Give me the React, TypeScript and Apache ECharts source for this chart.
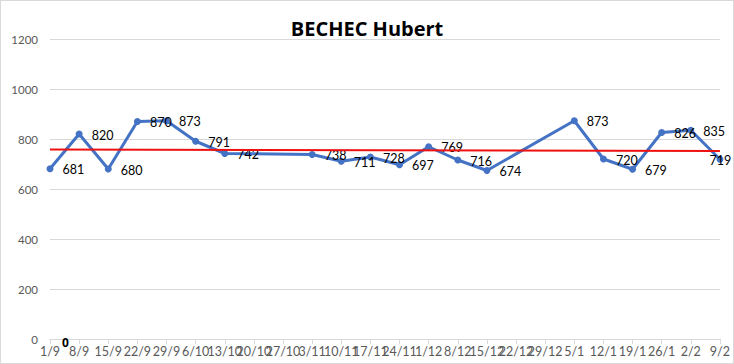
import React, { useEffect, useRef } from "react";
import * as echarts from "echarts";

const categories = [
  "1/9", "8/9", "15/9", "22/9", "29/9", "6/10", "13/10", "20/10", "27/10", "3/11",
  "10/11", "17/11", "24/11", "1/12", "8/12", "15/12", "22/12", "29/12", "5/1", "12/1",
  "19/1", "26/1", "2/2", "9/2",
];
const scores: (number | null)[] = [
  681, 820, 680, 870, 873, 791, 742, null, null, 738,
  711, 728, 697, 769, 716, 674, null, null, 873, 720,
  679, 826, 835, 719,
];
const trendEnds = [758, 752];
const yTicks = { min: 0, max: 1200, interval: 200 };
const title = "BECHEC Hubert";

export default function App() {
  const ref = useRef<HTMLDivElement>(null);
  useEffect(() => {
    if (!ref.current) return;
    const chart = echarts.init(ref.current, null, { renderer: "svg" });
    const last = categories.length - 1;
    const trendData = categories.map((_, i) =>
      i === 0 ? trendEnds[0] : i === last ? trendEnds[1] : null
    );
    const scoreData = scores.map((v, i) =>
      i === last && v != null ? { value: v, label: { offset: [-23, 1] } } : v
    );
    const font = "Lato, 'Open Sans', sans-serif";
    chart.setOption({
      animation: false,
      backgroundColor: "#ffffff",
      title: {
        text: title,
        left: "center",
        top: 12,
        textStyle: { fontFamily: "'Open Sans', sans-serif", fontSize: 20, fontWeight: "bold", color: "#000" },
      },
      grid: { left: 49, right: 12, top: 38, bottom: 24 },
      xAxis: {
        type: "category",
        data: categories,
        boundaryGap: false,
        axisLine: { lineStyle: { color: "#d9d9d9", width: 1 } },
        axisTick: { show: true, length: 5, interval: 0, lineStyle: { color: "#d9d9d9" } },
        axisLabel: {
          interval: 0,
          hideOverlap: false,
          margin: 6,
          color: "#595959",
          fontFamily: font,
          fontSize: 12.5,
        },
        splitLine: { show: false },
      },
      yAxis: {
        type: "value",
        min: yTicks.min,
        max: yTicks.max,
        interval: yTicks.interval,
        axisLine: { show: false },
        axisTick: { show: false },
        axisLabel: {
          color: "#595959",
          fontFamily: font,
          fontSize: 11.5,
          margin: 12,
          formatter: (v: number) => String(v),
        },
        splitLine: { lineStyle: { color: "#d9d9d9", width: 1 } },
      },
      series: [
        {
          type: "line",
          data: scoreData,
          connectNulls: true,
          symbol: "circle",
          symbolSize: 7,
          lineStyle: { color: "#4472C4", width: 3 },
          itemStyle: { color: "#4472C4" },
          label: {
            show: true,
            position: "right",
            distance: 9,
            offset: [0, 1],
            color: "#000",
            fontFamily: font,
            fontSize: 12.5,
          },
          z: 2,
        },
        {
          type: "line",
          data: trendData,
          connectNulls: true,
          showSymbol: false,
          symbol: "none",
          lineStyle: { color: "#EE1111", width: 2 },
          z: 3,
          silent: true,
        },
      ],
      graphic: [
        {
          type: "text",
          left: 61,
          top: 335,
          z: 10,
          style: { text: "0", fontFamily: "'Open Sans', sans-serif", fontSize: 12, fontWeight: "bold", fill: "#000" },
        },
      ],
    });
    return () => chart.dispose();
  }, []);
  return (
    <div
      ref={ref}
      style={{
        position: "fixed",
        left: 0,
        top: 0,
        width: 732,
        height: 362,
        border: "1px solid #d9d9d9",
        background: "#fff",
      }}
    />
  );
}
